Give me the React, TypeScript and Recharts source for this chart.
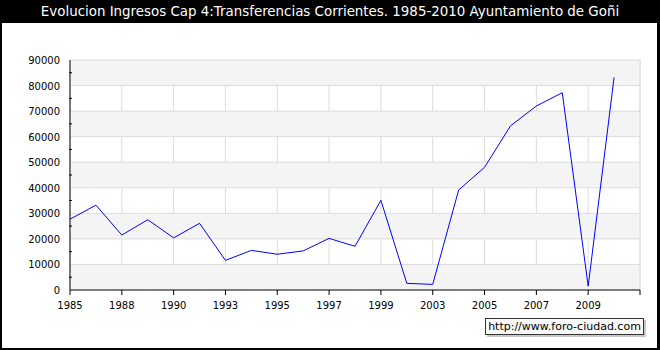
import React from "react";
import {
  CartesianGrid,
  Line,
  LineChart,
  ReferenceArea,
  ReferenceLine,
  XAxis,
  YAxis,
} from "recharts";

// years on the category axis (some years are missing in the source data)
const years = [
  "1985", "1986", "1988", "1989", "1990", "1992", "1993", "1994", "1995", "1996", "1997",
  "1998", "1999", "2002", "2003", "2004", "2005", "2006", "2007", "2008", "2009", "2010",
];
const ingresos = [
  27700, 33200, 21500, 27500, 20400, 26100, 11600, 15500, 14000, 15300, 20200,
  17100, 35100, 2600, 2200, 39100, 48000, 64200, 72000, 77200, 1500, 83200,
];
const xTicks = [0, 2, 4, 6, 8, 10, 12, 14, 16, 18, 20, 22];
const yTicks = [0, 5000, 10000, 15000, 20000, 25000, 30000, 35000, 40000, 45000, 50000, 55000, 60000, 65000, 70000, 75000, 80000, 85000, 90000];
const gridLines = [10000, 20000, 30000, 40000, 50000, 60000, 70000, 80000, 90000];
const shadedBands = [[0, 10000], [20000, 30000], [40000, 50000], [60000, 70000], [80000, 90000]];

const data = years.map((year, i) => ({ idx: i, year, value: ingresos[i] }));

const FONT = "'DejaVu Sans', Verdana, sans-serif";

const YTick = ({ x, y, payload }: any) => {
  if (payload.value % 10000 !== 0) {
    // minor tick, small mark inside the plot
    return <line x1={x + 7} x2={x + 10} y1={y} y2={y} stroke="#000" />;
  }
  return (
    <text x={x - 2} y={y} dy={4} textAnchor="end" fontSize={10} fontFamily={FONT} fill="#000">
      {payload.value}
    </text>
  );
};

const XTick = ({ x, y, payload }: any) => {
  const label = years[payload.value];
  if (!label) return null;
  return (
    <text x={x} y={y} dy={12} textAnchor="middle" fontSize={10} fontFamily={FONT} fill="#000">
      {label}
    </text>
  );
};

export default function App() {
  return (
    <div style={{ position: "absolute", left: 0, top: 0, width: 660, height: 350, background: "#000" }}>
      <div
        style={{
          position: "absolute",
          left: 0,
          top: 0,
          width: 660,
          height: 23,
          color: "#fff",
          fontFamily: FONT,
          fontSize: 13.4,
          lineHeight: "23px",
          textAlign: "center",
        }}
      >
        Evolucion Ingresos Cap 4:Transferencias Corrientes. 1985-2010 Ayuntamiento de Goñi
      </div>
      <div style={{ position: "absolute", left: 2, top: 23, width: 655, height: 325, background: "#fff" }}>
        <LineChart width={655} height={325} data={data} margin={{ top: 37, right: 17, bottom: 28, left: 8 }}>
          {shadedBands.map(([a, b]) => (
            <ReferenceArea key={a} y1={a} y2={b} fill="#f4f4f4" fillOpacity={1} stroke="none" ifOverflow="visible" />
          ))}
          <CartesianGrid horizontal={false} stroke="#dcdcdc" strokeWidth={1} />
          {gridLines.map((v) => (
            <ReferenceLine key={v} y={v} stroke="#dcdcdc" strokeWidth={1} />
          ))}
          <ReferenceLine x={22} stroke="#dcdcdc" strokeWidth={1} />
          <XAxis
            dataKey="idx"
            type="number"
            domain={[0, 22]}
            ticks={xTicks}
            interval={0}
            height={30}
            axisLine={{ stroke: "#000" }}
            tickLine={{ stroke: "#000" }}
            tickSize={5}
            tick={<XTick />}
          />
          <YAxis
            type="number"
            domain={[0, 90000]}
            ticks={yTicks}
            interval={0}
            width={60}
            axisLine={{ stroke: "#000" }}
            tickLine={false}
            tick={<YTick />}
          />
          <Line
            dataKey="value"
            type="linear"
            stroke="#0000ff"
            strokeWidth={1}
            dot={false}
            isAnimationActive={false}
          />
        </LineChart>
      </div>
      <div
        style={{
          position: "absolute",
          left: 485,
          top: 318,
          width: 157,
          height: 15,
          border: "1px solid #333",
          background: "#f8f8f8",
          boxShadow: "2px 2px 0 #c8c8c8",
          fontFamily: FONT,
          fontSize: 11,
          lineHeight: "15px",
          textAlign: "center",
          color: "#000",
        }}
      >
        http://www.foro-ciudad.com
      </div>
    </div>
  );
}
